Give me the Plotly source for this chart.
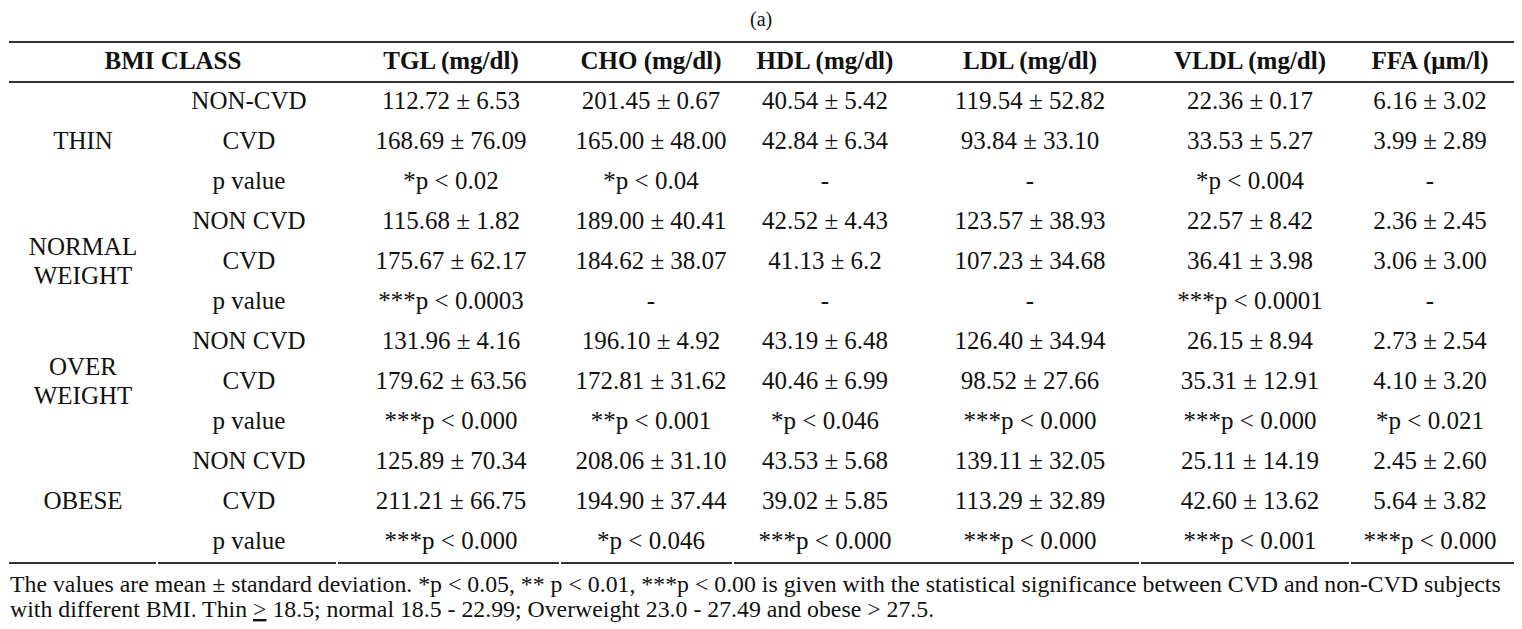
import plotly.graph_objects as go

# table content
title = "(a)"
header = ["TGL (mg/dl)", "CHO (mg/dl)", "HDL (mg/dl)", "LDL (mg/dl)", "VLDL (mg/dl)", "FFA (\u03bcm/l)"]
bmi_classes = [["THIN"], ["NORMAL", "WEIGHT"], ["OVER", "WEIGHT"], ["OBESE"]]
subgroups = ["NON-CVD", "CVD", "p value",
             "NON CVD", "CVD", "p value",
             "NON CVD", "CVD", "p value",
             "NON CVD", "CVD", "p value"]

tgl = ["112.72 \u00b1 6.53", "168.69 \u00b1 76.09", "*p < 0.02",
       "115.68 \u00b1 1.82", "175.67 \u00b1 62.17", "***p < 0.0003",
       "131.96 \u00b1 4.16", "179.62 \u00b1 63.56", "***p < 0.000",
       "125.89 \u00b1 70.34", "211.21 \u00b1 66.75", "***p < 0.000"]
cho = ["201.45 \u00b1 0.67", "165.00 \u00b1 48.00", "*p < 0.04",
       "189.00 \u00b1 40.41", "184.62 \u00b1 38.07", "-",
       "196.10 \u00b1 4.92", "172.81 \u00b1 31.62", "**p < 0.001",
       "208.06 \u00b1 31.10", "194.90 \u00b1 37.44", "*p < 0.046"]
hdl = ["40.54 \u00b1 5.42", "42.84 \u00b1 6.34", "-",
       "42.52 \u00b1 4.43", "41.13 \u00b1 6.2", "-",
       "43.19 \u00b1 6.48", "40.46 \u00b1 6.99", "*p < 0.046",
       "43.53 \u00b1 5.68", "39.02 \u00b1 5.85", "***p < 0.000"]
ldl = ["119.54 \u00b1 52.82", "93.84 \u00b1 33.10", "-",
       "123.57 \u00b1 38.93", "107.23 \u00b1 34.68", "-",
       "126.40 \u00b1 34.94", "98.52 \u00b1 27.66", "***p < 0.000",
       "139.11 \u00b1 32.05", "113.29 \u00b1 32.89", "***p < 0.000"]
vldl = ["22.36 \u00b1 0.17", "33.53 \u00b1 5.27", "*p < 0.004",
        "22.57 \u00b1 8.42", "36.41 \u00b1 3.98", "***p < 0.0001",
        "26.15 \u00b1 8.94", "35.31 \u00b1 12.91", "***p < 0.000",
        "25.11 \u00b1 14.19", "42.60 \u00b1 13.62", "***p < 0.001"]
ffa = ["6.16 \u00b1 3.02", "3.99 \u00b1 2.89", "-",
       "2.36 \u00b1 2.45", "3.06 \u00b1 3.00", "-",
       "2.73 \u00b1 2.54", "4.10 \u00b1 3.20", "*p < 0.021",
       "2.45 \u00b1 2.60", "5.64 \u00b1 3.82", "***p < 0.000"]

footnote = ["The values are mean \u00b1 standard deviation. *p < 0.05, ** p < 0.01, ***p < 0.00 is given with the "
            "statistical significance between CVD and non-CVD subjects",
            "with different BMI. Thin <u>></u> 18.5; normal 18.5 - 22.99; Overweight 23.0 - 27.49 and obese > 27.5."]

# layout (pixel-like coordinates; page body has an 8px margin)
W, H = 1522, 629
PAD = 8
FONT = "Liberation Serif, Times New Roman, serif"
INK = "#111111"
FS = 25
HEADER_Y = 63
ROW_H = 40
GROUP_X = 83
GROUP_LINE = 29
SUB_X = 249
BMI_X = 173
COL_X = [451, 651, 825, 1030, 1250, 1430]
LINE_Y = [42, 82, 563]
BOTTOM_BREAKS = [7, 157, 337, 560, 733, 1140, 1350, 1517]
FOOT_Y = [584, 609]

row_y = [HEADER_Y + ROW_H * (i + 1) for i in range(len(subgroups))]

fig = go.Figure()

# rules
fig.add_trace(go.Scatter(x=[9, 1517], y=[LINE_Y[0]] * 2, mode="lines",
                         line=dict(color="#333333", width=2), hoverinfo="skip"))
fig.add_trace(go.Scatter(x=[9, 1517], y=[LINE_Y[1]] * 2, mode="lines",
                         line=dict(color="#333333", width=1.8), hoverinfo="skip"))
for a, b in zip(BOTTOM_BREAKS[:-1], BOTTOM_BREAKS[1:]):
    fig.add_trace(go.Scatter(x=[max(a + 1, 9), b - 1], y=[LINE_Y[2]] * 2, mode="lines",
                             line=dict(color="#333333", width=2), hoverinfo="skip"))

# header
fig.add_trace(go.Scatter(x=[BMI_X] + COL_X, y=[HEADER_Y] * (len(header) + 1), mode="text",
                         text=["<b>BMI CLASS</b>"] + ["<b>%s</b>" % h for h in header],
                         textposition="middle center",
                         textfont=dict(family=FONT, size=FS, color=INK)))

# group labels (centred on the middle row of each group)
gx, gy, gt = [], [], []
for g, lines in enumerate(bmi_classes):
    mid = row_y[3 * g + 1]
    for k, word in enumerate(lines):
        gx.append(GROUP_X)
        gy.append(mid + (k - (len(lines) - 1) / 2) * GROUP_LINE)
        gt.append(word)
fig.add_trace(go.Scatter(x=gx, y=gy, mode="text", text=gt, textposition="middle center",
                         textfont=dict(family=FONT, size=FS, color=INK)))

fig.add_trace(go.Scatter(x=[SUB_X] * len(subgroups), y=row_y, mode="text",
                         text=subgroups, textposition="middle center",
                         textfont=dict(family=FONT, size=FS, color=INK)))

# value columns
for cx, col in zip(COL_X, [tgl, cho, hdl, ldl, vldl, ffa]):
    fig.add_trace(go.Scatter(x=[cx] * len(col), y=row_y, mode="text",
                             text=col, textposition="middle center",
                             textfont=dict(family=FONT, size=FS, color=INK)))

fig.add_annotation(x=761, y=19, text=title, showarrow=False, xanchor="center", yanchor="middle",
                   font=dict(family=FONT, size=20, color=INK))
for fy, line in zip(FOOT_Y, footnote):
    fig.add_annotation(x=PAD, y=fy, text=line, showarrow=False, xanchor="left", yanchor="middle",
                       align="left", font=dict(family=FONT, size=23.8, color=INK))

fig.update_layout(
    width=W, height=H,
    margin=dict(l=0, r=0, t=0, b=0),
    paper_bgcolor="white", plot_bgcolor="white",
    showlegend=False,
    xaxis=dict(range=[PAD, W + PAD], visible=False, fixedrange=True),
    yaxis=dict(range=[H + PAD, PAD], visible=False, fixedrange=True),
)

fig.write_html("out.html")
